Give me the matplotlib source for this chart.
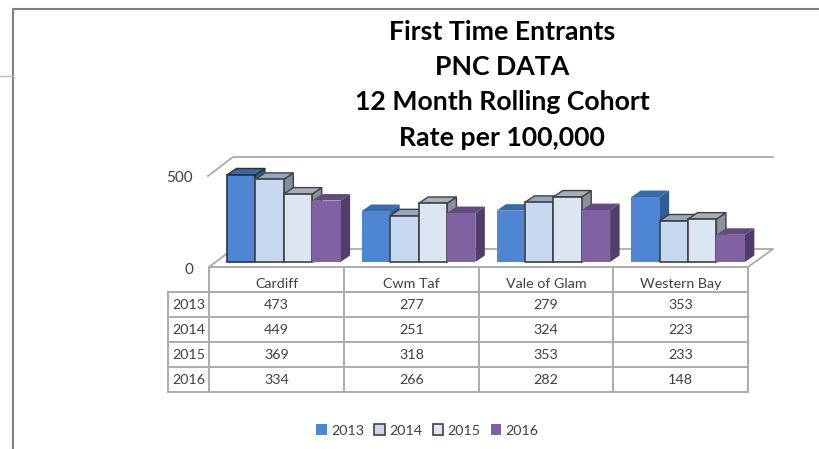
import matplotlib
matplotlib.use("Agg")
import matplotlib.pyplot as plt
from matplotlib.patches import Polygon, Patch

W, H = 819, 449

categories = ["Cardiff", "Cwm Taf", "Vale of Glam", "Western Bay"]
years = ["2013", "2014", "2015", "2016"]
v2013 = [473, 277, 279, 353]
v2014 = [449, 251, 324, 223]
v2015 = [369, 318, 353, 233]
v2016 = [334, 266, 282, 148]
series = [v2013, v2014, v2015, v2016]
title_lines = ["First Time Entrants", "PNC DATA", "12 Month Rolling Cohort", "Rate per 100,000"]

front = ["#4F86D3", "#C6D9F1", "#DCE6F2", "#8061A1"]
top = ["#376AA8", "#95A8C2", "#A5B0BC", "#614A7E"]
side = ["#2F5C96", "#7F8FA3", "#8A939D", "#503D68"]
edge = ["none", "#404040", "#404040", "none"]
grey = "#ABABAB"
text_col = "#404040"

plt.rcParams["font.family"] = ["Lato", "DejaVu Sans"]

fig = plt.figure(figsize=(W / 100, H / 100), dpi=100)

# overlay in pixel coords for frame, floor, table
bg = fig.add_axes([0, 0, 1, 1])
bg.set_xlim(0, W)
bg.set_ylim(H, 0)
bg.axis("off")

# outer frame
bg.plot([13, 13, W], [H, 9, 9], color="#808080", lw=1.5)
bg.plot([0, 13], [76, 76], color="#BDBDBD", lw=1)

# walls and floor
bg.plot([208, 233, 773], [176, 157, 157], color=grey, lw=1.3)
bg.plot([209, 233, 773, 748], [267, 249, 249, 267], color=grey, lw=1.3)
bg.text(193, 178, "500", ha="right", va="center", fontsize=11, color=text_col)
bg.text(193, 269.5, "0", ha="right", va="center", fontsize=11, color=text_col)

# data table
col_x = [209, 344, 479, 613, 748]
row_y = [292, 316.5, 341.5, 366.5, 391.5]
for x in col_x:
    bg.plot([x, x], [267, row_y[-1]], color=grey, lw=1.4)
bg.plot([168, 168], [row_y[0], row_y[-1]], color=grey, lw=1.4)
bg.plot([209, 748], [267, 267], color=grey, lw=1.4)
for y in row_y:
    bg.plot([168, 748], [y, y], color=grey, lw=1.4)
for i, c in enumerate(categories):
    cx = (col_x[i] + col_x[i + 1]) / 2
    bg.text(cx, 283.5, c, ha="center", va="center", fontsize=10.3, color=text_col)
    for r, vals in enumerate(series):
        bg.text(cx, (row_y[r] + row_y[r + 1]) / 2 + 0.7, str(vals[i]), ha="center", va="center",
                fontsize=10.3, color=text_col)
for r, y in enumerate(years):
    bg.text(188.5, (row_y[r] + row_y[r + 1]) / 2 + 0.7, y, ha="center", va="center", fontsize=10.3,
            color=text_col)

# title
for line, y in zip(title_lines, [32, 67, 102, 138]):
    bg.text(502, y, line, ha="center", va="center", fontsize=19.2, fontweight="bold", color="black")

# bars, y axis scaled 0-500 over 92 px
ax = fig.add_axes([209 / W, (H - 262) / H, 539 / W, 92 / H])
ax.set_xlim(0, 4)
ax.set_ylim(0, 500)
ax.axis("off")
ax.patch.set_alpha(0)

bar_w = 28.4 / 134.75
start = 18 / 134.75
dx = 9.5 / 134.75
dy = 6.5 / 0.184

for s, vals in enumerate(series):
    for i, v in enumerate(vals):
        x0 = i + start + s * bar_w
        x1 = x0 + bar_w
        z = 3 + s
        ec = edge[s]
        # the Cardiff 2013 bar is the only blue one with an outline
        if s == 0 and i == 0:
            ec = "#303030"
        ax.add_patch(Polygon([(x1, 0), (x1 + dx, dy), (x1 + dx, v + dy), (x1, v)], fc=side[s], ec=ec, lw=1,
                             zorder=z, clip_on=False))
        ax.add_patch(Polygon([(x0, v), (x0 + dx, v + dy), (x1 + dx, v + dy), (x1, v)], fc=top[s], ec=ec, lw=1,
                             zorder=z, clip_on=False))
        ax.bar(x0, v, width=bar_w, align="edge", color=front[s], edgecolor=ec, linewidth=1.2, zorder=z,
               clip_on=False)

# legend
handles = [Patch(fc=front[s], ec=edge[s], lw=1.2, label=years[s]) for s in range(4)]
fig.legend(handles=handles, ncol=4, loc="center", bbox_to_anchor=(427.5 / W, 1 - 430.5 / H), frameon=False,
           fontsize=10.3, handlelength=0.75, handleheight=0.8, handletextpad=0.3, columnspacing=0.7,
           labelcolor=text_col)

fig.savefig("out.png", dpi=100)
